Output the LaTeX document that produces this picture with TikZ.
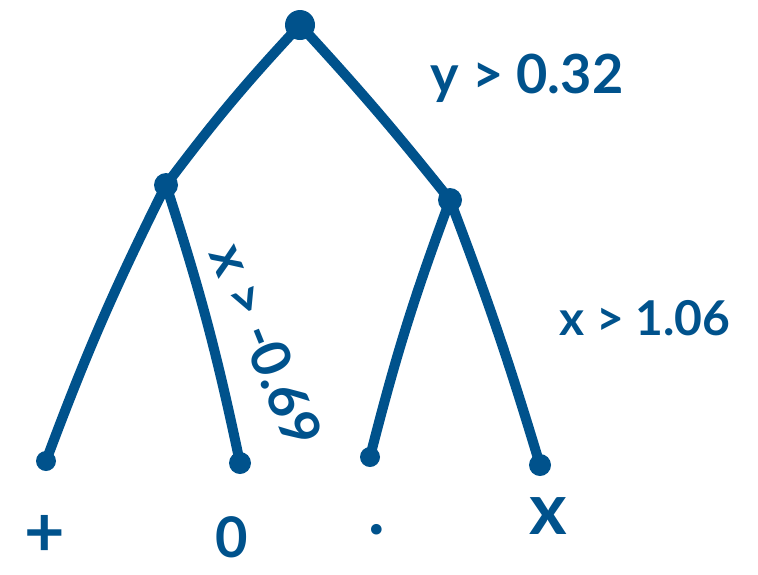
\documentclass[tikz,border=0pt]{standalone}
\usepackage{fontspec}
\setmainfont{Lato}
\definecolor{ink}{RGB}{0,82,140}
\begin{document}
\begin{tikzpicture}[x=1pt,y=-1pt,
  dotnode/.style={circle,fill=ink,inner sep=0pt,minimum size=#1},
  edge/.style={draw=ink,line width=10pt,line cap=round},
  lbl/.style={text=ink,font=\fontsize{54}{54}\selectfont\bfseries},
  leaflbl/.style={text=ink,inner sep=0pt,font=\fontsize{#1}{#1}\selectfont\bfseries}]
\useasboundingbox (0,0) rectangle (758,574);
\node[dotnode=30pt] (r) at (300,25) {};
\node[dotnode=24pt] (a) at (166,185) {};
\node[dotnode=24pt] (b) at (450,200) {};
\node[dotnode=20pt] (l1) at (46,461) {};
\node[dotnode=22pt] (l2) at (240,463) {};
\node[dotnode=20pt] (l3) at (370,457) {};
\node[dotnode=22pt] (l4) at (540,465) {};
\draw[edge] (r.center) to[bend right=3] (a.center);
\draw[edge] (r.center) to[bend left=2] (b.center);
\draw[edge] (a.center) to[bend right=3] (l1.center);
\draw[edge] (a.center) to[bend left=3] (l2.center);
\draw[edge] (b.center) to[bend right=3] (l3.center);
\draw[edge] (b.center) to[bend left=2] (l4.center);
\node[lbl] (t1) at (527,78) {y > 0.32};
\node[lbl,font=\fontsize{48}{48}\selectfont\bfseries] (t2) at (645,318) {x > 1.06};
\node[lbl,rotate=-68,inner sep=0pt] (t3) at (266,345) {x > -0.69};
\node[leaflbl=70] (p) at (45,536) {+};
\node[leaflbl=56] (o) at (232,537) {0};
\node[leaflbl=70] (d) at (377,530) {.};
\node[leaflbl=72] (x) at (548,516) {x};
\end{tikzpicture}
\end{document}
